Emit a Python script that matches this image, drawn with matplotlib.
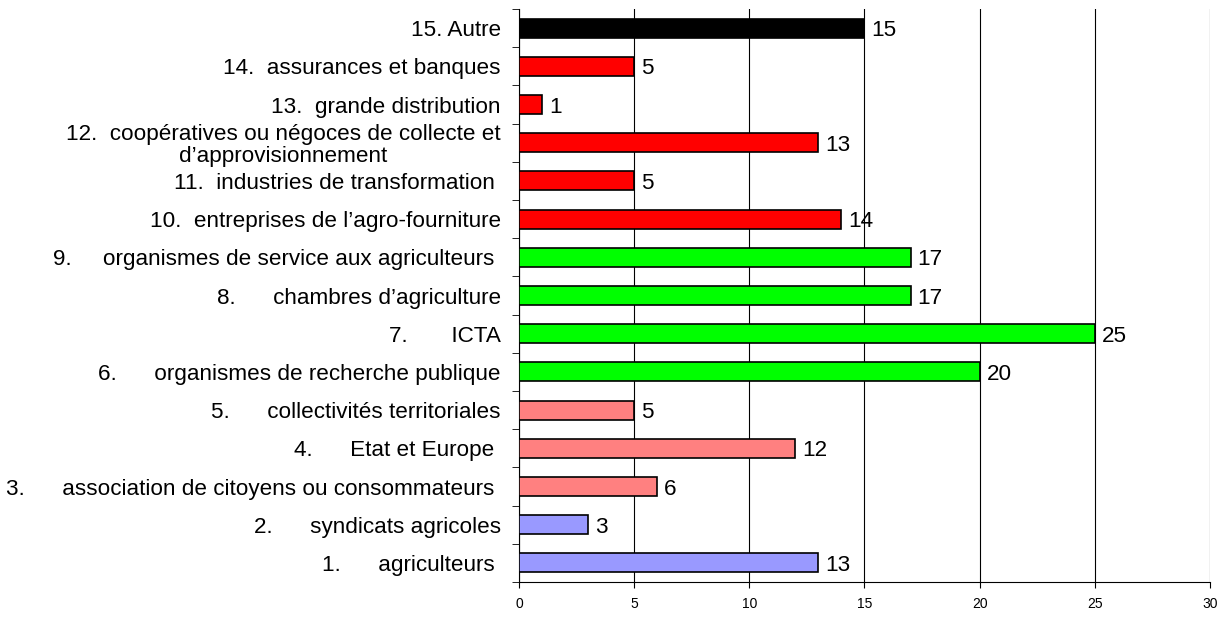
import numpy as np
import matplotlib.pyplot as plt

plt.rcParams['font.family'] = ['Liberation Sans', 'DejaVu Sans']

# categories from bottom to top
labels = [
    "1.      agriculteurs ",
    "2.      syndicats agricoles",
    "3.      association de citoyens ou consommateurs ",
    "4.      Etat et Europe ",
    "5.      collectivités territoriales",
    "6.      organismes de recherche publique",
    "7.       ICTA",
    "8.      chambres d\u2019agriculture",
    "9.     organismes de service aux agriculteurs ",
    "10.  entreprises de l\u2019agro-fourniture",
    "11.  industries de transformation ",
    "12.  coopératives ou négoces de collecte et\nd\u2019approvisionnement",
    "13.  grande distribution",
    "14.  assurances et banques",
    "15. Autre",
]
values = [13, 3, 6, 12, 5, 20, 25, 17, 17, 14, 5, 13, 1, 5, 15]
colors = ['#9999FF'] * 2 + ['#FF8080'] * 3 + ['#00FF00'] * 4 + ['#FF0000'] * 5 + ['#000000']

fig = plt.figure(figsize=(12.2, 6.17), dpi=100)
ax = fig.add_axes([0.4254, 0.0567, 0.5664, 0.9287])

y = np.arange(len(values))
ax.barh(y, values, height=0.5, color=colors, edgecolor='black', linewidth=1.2, zorder=3)

for yi, v in zip(y, values):
    ax.text(v + 0.3, yi, str(v), va='center_baseline', ha='left', fontsize=16.2, zorder=4)

ax.set_xlim(0, 30)
ax.set_ylim(-0.5, len(values) - 0.5)
ax.set_xticks(np.arange(0, 31, 5))
ax.tick_params(axis='x', labelsize=10, length=4, direction='out', pad=7)

ax.set_yticks(y)
ax.set_yticklabels(labels, fontsize=16.2, multialignment='center', linespacing=1.05)
ax.tick_params(axis='y', which='major', length=0, pad=13)
ax.set_yticks(np.arange(-0.5, len(values), 1), minor=True)
ax.tick_params(axis='y', which='minor', length=5, direction='out')

ax.grid(axis='x', color='black', linewidth=0.8, zorder=0)
ax.spines['top'].set_visible(False)
ax.spines['right'].set_visible(False)

fig.savefig('out.png', dpi=100)
